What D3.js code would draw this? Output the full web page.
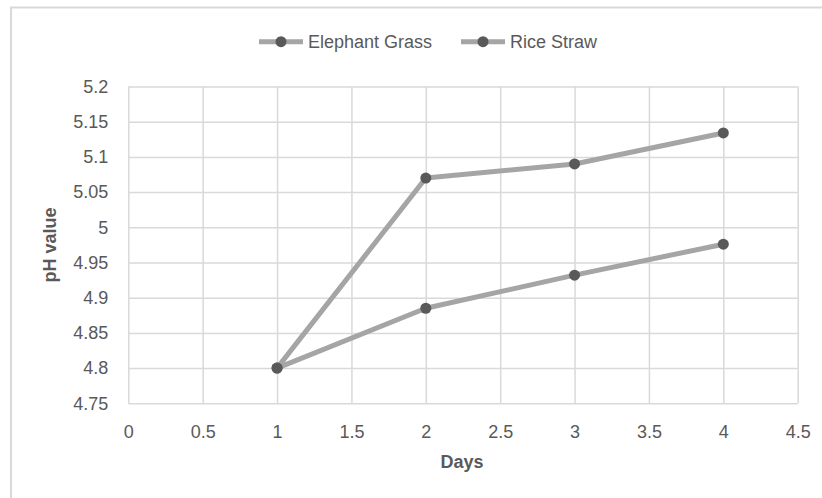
<!DOCTYPE html>
<html>
<head>
<meta charset="utf-8">
<script src="https://d3js.org/d3.v7.min.js"></script>
<style>
    body { margin: 0; background: #fff; }
    text { font-family: "Liberation Sans", Arial, sans-serif; fill: #595959; }
    .grid line { stroke: #d9d9d9; stroke-width: 1.5; }
    .grid .domain { display: none; }
    .grid text { font-size: 18px; }
    .axis-title { font-size: 18px; font-weight: bold; }
    .legend-label { font-size: 18px; }
</style>
</head>
<body>
<svg class="phChart" width="822" height="498"></svg>
<script>
const days = [1, 2, 3, 4];
const elephantGrass = [4.8, 5.07, 5.09, 5.134];
const riceStraw = [4.8, 4.885, 4.932, 4.976];
const seriesNames = ["Elephant Grass", "Rice Straw"];
const xTicks = [0, 0.5, 1, 1.5, 2, 2.5, 3, 3.5, 4, 4.5];
const yTicks = [4.75, 4.8, 4.85, 4.9, 4.95, 5, 5.05, 5.1, 5.15, 5.2];

function render()
{
    const margin = {
        'top' : 86.5,
        'left' : 128.3,
        'right' : 24.3,
        'bottom' : 94.7
    };
    const width = 822 - margin.left - margin.right;
    const height = 498 - margin.top - margin.bottom;
    const svg = d3.select('.phChart');

    // outer chart frame (cut off at the right and bottom)
    svg.append('rect')
        .attr('x', 11)
        .attr('y', 7.5)
        .attr('width', 830)
        .attr('height', 510)
        .attr('fill', 'none')
        .attr('stroke', '#d9d9d9')
        .attr('stroke-width', 2);

    const chartContainer = svg.append('g')
        .attr('transform', `translate(${margin.left}, ${margin.top})`);

    const xScale = d3.scaleLinear()
        .range([0, width])
        .domain([d3.min(xTicks), d3.max(xTicks)]);

    const yScale = d3.scaleLinear()
        .range([height, 0])
        .domain([d3.min(yTicks), d3.max(yTicks)]);

    const fmt = d3.format('~g');

    chartContainer.append('g')
        .attr('class', 'grid y-axis')
        .call(d3.axisLeft(yScale)
            .tickValues(yTicks)
            .tickFormat(fmt)
            .tickSize(-width)
            .tickPadding(20)
        );

    chartContainer.append('g')
        .attr('class', 'grid x-axis')
        .attr('transform', `translate(0, ${height})`)
        .call(d3.axisBottom(xScale)
            .tickValues(xTicks)
            .tickFormat(fmt)
            .tickSize(-height)
            .tickPadding(22)
        );

    chartContainer.append('text')
        .attr('class', 'axis-title')
        .attr('text-anchor', 'middle')
        .attr('x', xScale(2.25) - 1)
        .attr('y', height + 65)
        .text("Days");

    chartContainer.append('text')
        .attr('class', 'axis-title')
        .attr('text-anchor', 'middle')
        .attr('transform', `rotate(-90)`)
        .attr('x', -(yScale(4.975)))
        .attr('y', -72)
        .text("pH value");

    const allSeries = [elephantGrass, riceStraw].map(function(values, i){
        return {
            name : seriesNames[i],
            points : days.map((d, j) => ({ day : d, ph : values[j] }))
        };
    });

    const line = d3.line()
        .x(d => xScale(d.day))
        .y(d => yScale(d.ph));

    for(s of allSeries){
        chartContainer.append('path')
            .datum(s.points)
            .attr('fill', 'none')
            .attr('stroke', '#a5a5a5')
            .attr('stroke-width', 5)
            .attr('stroke-linejoin', 'round')
            .attr('d', line);
    }

    for(s of allSeries){
        chartContainer.selectAll()
            .data(s.points)
            .enter()
            .append('circle')
            .attr('cx', d => xScale(d.day))
            .attr('cy', d => yScale(d.ph))
            .attr('r', 5.5)
            .attr('fill', '#595959');
    }

    // legend
    const legendX = [259, 461];
    const legend = svg.append('g')
        .attr('transform', 'translate(0, 41.7)');

    seriesNames.forEach(function(name, i){
        const item = legend.append('g')
            .attr('transform', `translate(${legendX[i]}, 0)`);
        item.append('line')
            .attr('x1', 0)
            .attr('x2', 44)
            .attr('stroke', '#a5a5a5')
            .attr('stroke-width', 5);
        item.append('circle')
            .attr('cx', 22)
            .attr('r', 5.5)
            .attr('fill', '#595959');
        item.append('text')
            .attr('class', 'legend-label')
            .attr('x', 49)
            .attr('y', 6.5)
            .text(name);
    });
}

render();
</script>
</body>
</html>
